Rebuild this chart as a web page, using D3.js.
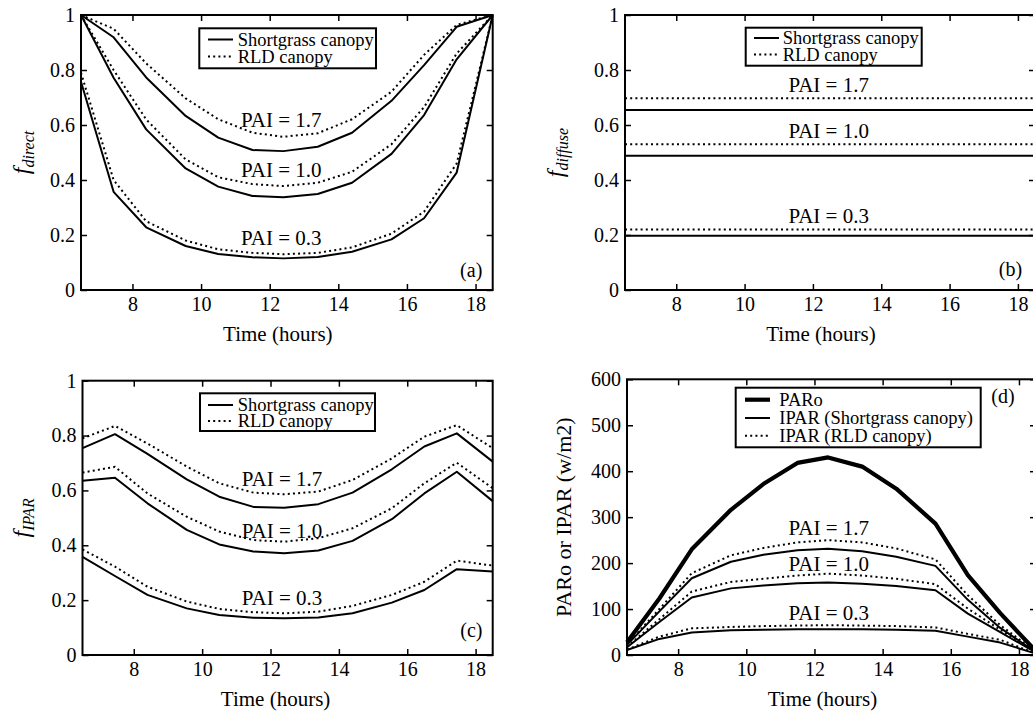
<!DOCTYPE html>
<html>
<head>
<meta charset="utf-8">
<script src="https://cdn.jsdelivr.net/npm/d3@7"></script>
<style>
body { margin: 0; background: #fff; }
text { font-family: "Liberation Serif", "Times New Roman", serif; fill: #000; }
</style>
</head>
<body>
<script>
// sample times (hours)
var times = [6.5, 7.45, 8.4, 9.55, 10.5, 11.5, 12.4, 13.4, 14.4, 15.55, 16.5, 17.45, 18.5];
var diffuseTimes = [6.5, 18.5];

// (a) fraction of direct beam intercepted
var directShort17 = [1.0, 0.919, 0.773, 0.633, 0.554, 0.509, 0.505, 0.521, 0.572, 0.688, 0.818, 0.957, 1.0];
var directRld17   = [1.0, 0.95, 0.824, 0.697, 0.621, 0.572, 0.557, 0.570, 0.621, 0.721, 0.855, 0.964, 1.0];
var directShort10 = [1.0, 0.772, 0.584, 0.442, 0.376, 0.342, 0.337, 0.349, 0.390, 0.495, 0.636, 0.839, 1.0];
var directRld10   = [1.0, 0.80, 0.62, 0.475, 0.41, 0.385, 0.378, 0.39, 0.43, 0.53, 0.665, 0.86, 1.0];
var directShort03 = [0.757, 0.357, 0.228, 0.16, 0.131, 0.119, 0.115, 0.12, 0.139, 0.184, 0.261, 0.427, 1.0];
var directRld03   = [0.79, 0.40, 0.25, 0.18, 0.148, 0.135, 0.13, 0.135, 0.155, 0.205, 0.285, 0.46, 1.0];

// (b) fraction of diffuse light intercepted (constant over the day)
var diffuseShort17 = [0.655, 0.655];
var diffuseRld17   = [0.697, 0.697];
var diffuseShort10 = [0.488, 0.488];
var diffuseRld10   = [0.53, 0.53];
var diffuseShort03 = [0.197, 0.197];
var diffuseRld03   = [0.22, 0.22];

// (c) fraction of PAR intercepted
var ipfShort17 = [0.754, 0.805, 0.733, 0.640, 0.577, 0.540, 0.537, 0.550, 0.592, 0.677, 0.760, 0.808, 0.705];
var ipfRld17   = [0.79, 0.835, 0.771, 0.687, 0.626, 0.592, 0.586, 0.596, 0.638, 0.717, 0.796, 0.838, 0.754];
var ipfShort10 = [0.635, 0.646, 0.553, 0.456, 0.403, 0.377, 0.371, 0.381, 0.416, 0.495, 0.589, 0.668, 0.561];
var ipfRld10   = [0.665, 0.686, 0.589, 0.504, 0.45, 0.419, 0.413, 0.426, 0.462, 0.535, 0.626, 0.701, 0.608];
var ipfShort03 = [0.358, 0.288, 0.219, 0.170, 0.146, 0.136, 0.134, 0.137, 0.152, 0.191, 0.237, 0.313, 0.304];
var ipfRld03   = [0.385, 0.322, 0.249, 0.195, 0.168, 0.156, 0.152, 0.158, 0.179, 0.219, 0.267, 0.344, 0.326];

// (d) incoming PAR and intercepted PAR (w/m2)
var paro        = [28, 123, 230, 316, 372, 418, 430, 410, 362, 286, 174, 91, 8];
var iparShort17 = [22, 95, 167, 203, 218, 228, 231, 226, 214, 194, 120, 59, 6];
var iparRld17   = [23, 100, 178, 217, 233, 245, 250, 245, 232, 208, 130, 65, 7];
var iparShort10 = [17, 72, 125, 145, 151, 156, 158, 155, 150, 141, 90, 50, 5];
var iparRld10   = [18, 78, 138, 159, 166, 173, 177, 173, 166, 154, 101, 55, 5];
var iparShort03 = [11, 35, 49, 54, 55, 56, 56, 56, 55, 53, 40, 27, 3];
var iparRld03   = [12, 40, 58, 61, 63, 64, 65, 64, 63, 60, 46, 33, 3];

var xTicks = [8, 10, 12, 14, 16, 18];
var fracTicks = [0, 0.2, 0.4, 0.6, 0.8, 1];
var parTicks = [0, 100, 200, 300, 400, 500, 600];
var paiLabels = ["PAI = 1.7", "PAI = 1.0", "PAI = 0.3"];

var svg = d3.select("body").append("svg")
    .attr("width", 1033)
    .attr("height", 717);

var styles = {
    solid: { width: 2, dash: null },
    dotted: { width: 2, dash: "2,3.2" },
    thick: { width: 4.2, dash: null }
};

var fracFormat = function(d){ return (d === 0 || d === 1) ? d : d.toFixed(1); };

function drawPanel(p) {
    var x = d3.scaleLinear().domain([6.5, 18.5]).range([p.left, p.left + p.w]);
    var y = d3.scaleLinear().domain(p.yDomain).range([p.top + p.h, p.top]);
    var g = svg.append("g");

    var line = d3.line()
        .x(function(d){ return x(d[0]); })
        .y(function(d){ return y(d[1]); });

    p.series.forEach(function(s){
        var st = styles[s.style];
        g.append("path")
            .datum(d3.zip(s.t, s.v))
            .attr("d", line)
            .attr("fill", "none")
            .attr("stroke", "#000")
            .attr("stroke-width", st.width)
            .attr("stroke-dasharray", st.dash)
            .attr("stroke-linejoin", "round");
    });

    // boxed axes with inward ticks on all four sides
    g.append("g").attr("transform", "translate(0," + (p.top + p.h) + ")")
        .call(d3.axisBottom(x).tickValues(xTicks).tickSize(-6).tickPadding(7));
    g.append("g").attr("transform", "translate(" + p.left + ",0)")
        .call(d3.axisLeft(y).tickValues(p.yTicks).tickSize(-6).tickPadding(6).tickFormat(p.yFormat));
    g.append("g").attr("transform", "translate(0," + p.top + ")")
        .call(d3.axisTop(x).tickValues(xTicks).tickSize(-6).tickFormat(""));
    g.append("g").attr("transform", "translate(" + (p.left + p.w) + ",0)")
        .call(d3.axisRight(y).tickValues(p.yTicks).tickSize(-6).tickFormat(""));
    g.selectAll(".domain").remove();
    g.selectAll(".tick line").attr("stroke-width", 1.5);
    g.selectAll(".tick text")
        .style("font-family", "'Liberation Serif', 'Times New Roman', serif")
        .style("font-size", "20px");

    g.append("rect")
        .attr("x", p.left).attr("y", p.top)
        .attr("width", p.w).attr("height", p.h)
        .attr("fill", "none").attr("stroke", "#000").attr("stroke-width", 2);

    g.append("text")
        .attr("x", p.left + p.w / 2 + p.xTitleShift)
        .attr("y", p.top + p.h + 51)
        .attr("text-anchor", "middle")
        .style("font-size", "21px")
        .text("Time (hours)");

    // y axis title
    var yt = g.append("text")
        .attr("transform", "translate(" + p.yTitleX + "," + (p.top + p.h / 2) + ") rotate(-90)")
        .attr("text-anchor", "middle");
    if (p.yTitleSub) {
        yt.append("tspan").style("font-style", "italic").style("font-size", "24px").text("f");
        yt.append("tspan").style("font-style", "italic").style("font-size", "16px")
            .attr("dy", 5).text(p.yTitleSub);
    } else {
        yt.style("font-size", "22px").text(p.yTitle);
    }

    // PAI labels
    p.pai.forEach(function(v, i){
        g.append("text")
            .attr("x", x(p.paiX))
            .attr("y", y(v))
            .attr("text-anchor", "middle")
            .style("font-size", "21px")
            .text(paiLabels[i]);
    });

    g.append("text")
        .attr("x", x(p.tag[0]))
        .attr("y", y(p.tag[1]))
        .style("font-size", "20px")
        .text(p.tag[2]);

    // legend, all offsets relative to the panel's top-left corner
    var L = p.legend;
    var lg = g.append("g").attr("transform", "translate(" + p.left + "," + p.top + ")");
    lg.append("rect")
        .attr("x", L.x).attr("y", L.y)
        .attr("width", L.w).attr("height", L.h)
        .attr("fill", "#fff").attr("stroke", "#000").attr("stroke-width", 2);
    L.rows.forEach(function(r){
        var st = styles[r.style];
        lg.append("line")
            .attr("x1", L.lx).attr("x2", L.lx + 25)
            .attr("y1", r.base - 6).attr("y2", r.base - 6)
            .attr("stroke", "#000")
            .attr("stroke-width", st.width)
            .attr("stroke-dasharray", st.dash);
        lg.append("text")
            .attr("x", L.tx).attr("y", r.base)
            .style("font-size", "18.5px")
            .text(r.label);
    });
}

function pairSeries(t, s17, r17, s10, r10, s03, r03) {
    return [
        { t: t, v: s17, style: "solid" }, { t: t, v: r17, style: "dotted" },
        { t: t, v: s10, style: "solid" }, { t: t, v: r10, style: "dotted" },
        { t: t, v: s03, style: "solid" }, { t: t, v: r03, style: "dotted" }
    ];
}

var canopyRows = function(b1, b2){
    return [ { label: "Shortgrass canopy", style: "solid", base: b1 },
             { label: "RLD canopy", style: "dotted", base: b2 } ];
};

drawPanel({
    left: 81, top: 15, w: 411.7, h: 275,
    yDomain: [0, 1], yTicks: fracTicks, yFormat: fracFormat,
    yTitleX: 29, yTitleSub: "direct", xTitleShift: -9,
    series: pairSeries(times, directShort17, directRld17, directShort10, directRld10, directShort03, directRld03),
    paiX: 12.34, pai: [0.594, 0.412, 0.164],
    tag: [17.55, 0.047, "(a)"],
    legend: { x: 118.3, y: 13.3, w: 176.7, h: 40, lx: 127, tx: 156.7, rows: canopyRows(30.5, 47.5) }
});

drawPanel({
    left: 625, top: 15, w: 410, h: 275,
    yDomain: [0, 1], yTicks: fracTicks, yFormat: fracFormat,
    yTitleX: 563, yTitleSub: "diffuse", xTitleShift: -9,
    series: pairSeries(diffuseTimes, diffuseShort17, diffuseRld17, diffuseShort10, diffuseRld10, diffuseShort03, diffuseRld03),
    paiX: 12.46, pai: [0.721, 0.552, 0.245],
    tag: [17.44, 0.05, "(b)"],
    legend: { x: 120.7, y: 12.7, w: 176, h: 38, lx: 129, tx: 157.7, rows: canopyRows(29, 45.5) }
});

drawPanel({
    left: 82.5, top: 380.7, w: 410.2, h: 274.3,
    yDomain: [0, 1], yTicks: fracTicks, yFormat: fracFormat,
    yTitleX: 29, yTitleSub: "IPAR", xTitleShift: -12,
    series: pairSeries(times, ipfShort17, ipfRld17, ipfShort10, ipfRld10, ipfShort03, ipfRld03),
    paiX: 12.34, pai: [0.616, 0.425, 0.182],
    tag: [17.55, 0.067, "(c)"],
    legend: { x: 117.5, y: 12.6, w: 175, h: 37.7, lx: 125.5, tx: 155.2, rows: canopyRows(30.3, 46.3) }
});

var parSeries = [{ t: times, v: paro, style: "thick" }]
    .concat(pairSeries(times, iparShort17, iparRld17, iparShort10, iparRld10, iparShort03, iparRld03));

drawPanel({
    left: 627, top: 379.3, w: 409, h: 275.7,
    yDomain: [0, 600], yTicks: parTicks, yFormat: d3.format("d"),
    yTitleX: 571, yTitle: "PARo or IPAR (w/m2)", xTitleShift: -9,
    series: parSeries,
    paiX: 12.42, pai: [261, 183.5, 76],
    tag: [17.19, 548, "(d)"],
    legend: { x: 108.7, y: 8.4, w: 245, h: 59.6, lx: 118, tx: 152.3,
        rows: [ { label: "PARo", style: "thick", base: 26.4 },
                { label: "IPAR (Shortgrass canopy)", style: "solid", base: 44.7 },
                { label: "IPAR (RLD canopy)", style: "dotted", base: 62.4 } ] }
});
</script>
</body>
</html>
